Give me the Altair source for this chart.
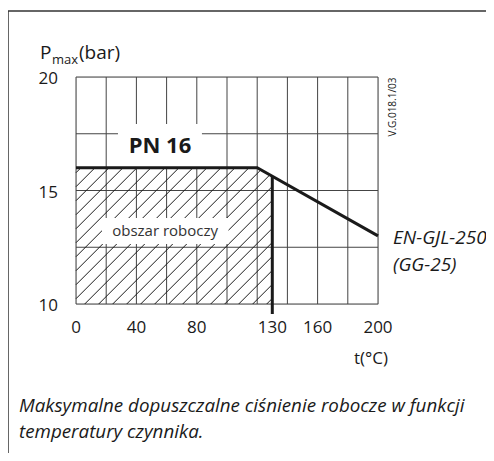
import altair as alt
import numpy as np
import pandas as pd

# ---- data ----
curve_t = [0, 120, 200]          # temperature (°C)
curve_p = [16, 16, 13]           # max pressure (bar)
work_t_max = 130                 # right edge of working area
p_min, p_max = 10, 20
t_min, t_max = 0, 200
grid_t = [0, 20, 40, 60, 80, 100, 120, 140, 160, 180, 200]
grid_p = [10, 12.5, 15, 17.5, 20]
tick_t = [0, 40, 80, 130, 160, 200]
tick_p = [10, 15, 20]

pn_label = "PN 16"
area_label = "obszar roboczy"
material_1 = "EN-GJL-250"
material_2 = "(GG-25)"
doc_code = "V.G.018.1/03"
x_title = "t(°C)"
caption_lines = ["Maksymalne dopuszczalne ciśnienie robocze w funkcji",
                 "temperatury czynnika."]

# ---- style ----
W, H = 302, 227
FONT = "Open Sans"
INK = "#1a1a1a"
GRID = "#444444"
hatch_step_px = 14.0
hatch_first_t = 126.3

xs = alt.Scale(domain=[t_min, t_max], nice=False, zero=False)
ys = alt.Scale(domain=[p_min, p_max], nice=False, zero=False)

# hatch geometry (45° in pixel space), clipped to the working area
px_t = W / (t_max - t_min)
px_p = H / (p_max - p_min)
s = px_t / px_p
step_t = hatch_step_px / px_t


def hit_top(x0):
    for xa, ya, xb, yb in zip(curve_t[:-1], curve_p[:-1], curve_t[1:], curve_p[1:]):
        m = (yb - ya) / (xb - xa)
        x = (ya - m * xa - p_min + s * x0) / (s - m)
        if xa - 1e-9 <= x <= xb + 1e-9:
            return x
    return None


rows = []
x0 = hatch_first_t
while x0 > t_min - (max(curve_p) - p_min) / s:
    xe = hit_top(x0)
    if xe is not None:
        xe = min(xe, work_t_max)
        xs0 = max(x0, t_min)
        if xs0 < xe:
            rows.append({"x": xs0, "y": p_min + s * (xs0 - x0),
                         "x2": xe, "y2": p_min + s * (xe - x0)})
    x0 -= step_t
hatch_df = pd.DataFrame(rows)

p_at_work = float(np.interp(work_t_max, curve_t, curve_p))

X = lambda f: alt.X(f, scale=xs, axis=None)
Y = lambda f: alt.Y(f, scale=ys, axis=None)

# ---- layers ----
vgrid = alt.Chart(pd.DataFrame({"t": grid_t})).mark_rule(color=GRID, strokeWidth=1).encode(
    x=X("t:Q"), y=alt.value(0), y2=alt.value(H))

hgrid = alt.Chart(pd.DataFrame({"p": grid_p})).mark_rule(color=GRID, strokeWidth=1).encode(
    y=Y("p:Q"), x=alt.value(0), x2=alt.value(W))

hatch = alt.Chart(hatch_df).mark_rule(color=INK, strokeWidth=1).encode(
    x=X("x:Q"), y=Y("y:Q"), x2="x2:Q", y2="y2:Q")

boxes_df = pd.DataFrame({
    "t0": [27.8, 17.2], "t1": [83.4, 101.0],
    "p0": [16.0, 12.64], "p1": [17.93, 13.79]})
boxes = alt.Chart(boxes_df).mark_rect(fill="white").encode(
    x=X("t0:Q"), x2="t1:Q", y=Y("p0:Q"), y2="p1:Q")

curve = alt.Chart(pd.DataFrame({"t": curve_t, "p": curve_p})).mark_line(
    color=INK, strokeWidth=3, strokeCap="butt", strokeJoin="miter").encode(
    x=X("t:Q"), y=Y("p:Q"))

edge = alt.Chart(pd.DataFrame({"t": [work_t_max], "p": [p_at_work]})).mark_rule(
    color=INK, strokeWidth=3).encode(
    x=X("t:Q"), y=Y("p:Q"), y2=alt.value(H + 10))

x_labels = alt.Chart(pd.DataFrame({"t": tick_t})).mark_text(
    font=FONT, fontSize=17, color=INK, baseline="middle", align="center").encode(
    x=X("t:Q"), y=alt.value(H + 24), text=alt.Text("t:Q", format="d"))

y_labels = alt.Chart(pd.DataFrame({"p": tick_p})).mark_text(
    font=FONT, fontSize=17, color=INK, baseline="middle", align="right", dy=2).encode(
    y=Y("p:Q"), x=alt.value(-18), text=alt.Text("p:Q", format="d"))

pn_text = alt.Chart(pd.DataFrame({"t": [55.6], "p": [16.96], "s": [pn_label]})).mark_text(
    font=FONT, fontSize=22, fontWeight="bold", color=INK, baseline="middle").encode(
    x=X("t:Q"), y=Y("p:Q"), text="s:N")

area_text = alt.Chart(pd.DataFrame({"t": [59.0], "p": [13.22], "s": [area_label]})).mark_text(
    font=FONT, fontSize=15, color="#333333", baseline="middle").encode(
    x=X("t:Q"), y=Y("p:Q"), text="s:N")


def label(txt, x, y, size, align="left", baseline="alphabetic", style="normal", angle=0):
    return alt.Chart(pd.DataFrame({"s": [txt]})).mark_text(
        font=FONT, fontSize=size, color=INK, align=align, baseline=baseline,
        fontStyle=style, angle=angle).encode(
        x=alt.value(x), y=alt.value(y), text="s:N")


caption = alt.Chart(pd.DataFrame({"s": ["\n".join(caption_lines)]})).mark_text(
    font=FONT, fontSize=18.8, color=INK, align="left", baseline="alphabetic",
    fontStyle="italic", lineBreak="\n", lineHeight=26).encode(
    x=alt.value(-57), y=alt.value(335), text="s:N")

texts = [
    label("P", -36, -18, 19),
    label("max", -24, -13, 13),
    label("(bar)", 3, -18, 19),
    label(doc_code, 317, 30, 10, align="center", baseline="middle", angle=270),
    label(material_1, 317, 167, 19, style="italic"),
    label(material_2, 317, 194, 19, style="italic"),
    label(x_title, 295, 282, 17, align="center", baseline="middle"),
    caption,
]

border_left = alt.Chart(pd.DataFrame({"k": [0]})).mark_rule(color="#333333", strokeWidth=1.5).encode(
    x=alt.value(-68), y=alt.value(-66), y2=alt.value(H + 160))
border_top = alt.Chart(pd.DataFrame({"k": [0]})).mark_rule(color="#333333", strokeWidth=1.5).encode(
    x=alt.value(-68), x2=alt.value(W + 110), y=alt.value(-66))

chart = alt.layer(
    vgrid, hgrid, hatch, boxes, curve, edge, x_labels, y_labels, pn_text, area_text,
    border_left, border_top, *texts
).properties(
    width=W, height=H,
    autosize=alt.AutoSizeParams(type="none"),
    padding={"left": 68, "top": 69, "right": 108, "bottom": 149},
).configure_view(stroke=INK, strokeWidth=2).configure(background="white")

chart.save("out.html", embed_options={"renderer": "svg", "actions": False})
